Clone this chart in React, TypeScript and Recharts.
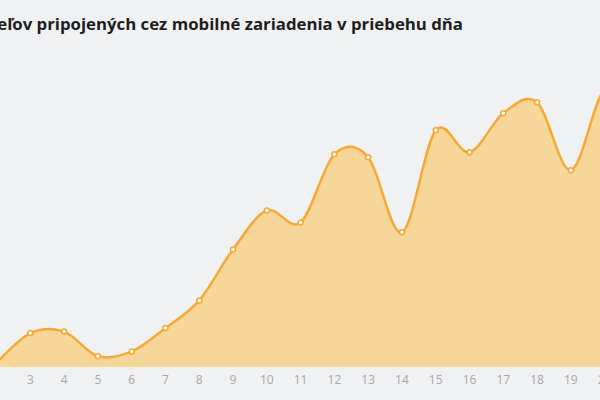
import { Area, AreaChart, XAxis, YAxis } from "recharts"

// hodiny dňa a podiel pripojení (odčítané z grafu)
const hours = [2, 3, 4, 5, 6, 7, 8, 9, 10, 11, 12, 13, 14, 15, 16, 17, 18, 19, 20, 21]
const share = [1.5, 11.3, 11.8, 3.6, 5.2, 13, 22.2, 39.2, 52.2, 48.2, 70.9, 69.9, 44.9, 78.9, 71.6, 84.6, 88.2, 65.6, 92.5, 86]
const hourTicks = [0, 1, 2, 3, 4, 5, 6, 7, 8, 9, 10, 11, 12, 13, 14, 15, 16, 17, 18, 19, 20, 21, 22, 23]

const title = "Podiel používateľov pripojených cez mobilné zariadenia v priebehu dňa"

const data = hours.map((h, i) => ({ hour: h, share: share[i] }))

// Catmull-Rom krivka (ako v pôvodnom grafe), recharts berie vlastnú curve factory
const catmullRom = (context: any) => {
  let line = NaN
  let pts: number[][] = []
  return {
    areaStart() {
      line = 0
    },
    areaEnd() {
      line = NaN
    },
    lineStart() {
      pts = []
    },
    lineEnd() {
      const n = pts.length
      if (n) {
        if (line) context.lineTo(pts[0][0], pts[0][1])
        else context.moveTo(pts[0][0], pts[0][1])
        for (let i = 0; i < n - 1; i++) {
          const p0 = pts[Math.max(i - 1, 0)]
          const p1 = pts[i]
          const p2 = pts[i + 1]
          const p3 = pts[Math.min(i + 2, n - 1)]
          context.bezierCurveTo(
            p1[0] + (p2[0] - p0[0]) / 6,
            p1[1] + (p2[1] - p0[1]) / 6,
            p2[0] - (p3[0] - p1[0]) / 6,
            p2[1] - (p3[1] - p1[1]) / 6,
            p2[0],
            p2[1]
          )
        }
      }
      if (line || (line !== 0 && n === 1)) context.closePath()
      line = 1 - line
    },
    point(x: number, y: number) {
      pts.push([+x, +y])
    },
  }
}

export default function App() {
  return (
    <div
      style={{
        position: "absolute",
        left: 0,
        top: 0,
        width: 600,
        height: 400,
        overflow: "hidden",
        background: "#f0f1f3",
        fontFamily: "'Open Sans', sans-serif",
      }}
    >
      <div
        style={{
          position: "absolute",
          right: 137,
          top: 12,
          whiteSpace: "nowrap",
          fontSize: 16.8,
          fontWeight: 700,
          color: "#1e1e1e",
        }}
      >
        {title}
      </div>
      <div style={{ position: "absolute", left: -71, top: 0 }}>
        <AreaChart width={777} height={400} data={data} margin={{ top: 67, right: 0, bottom: 0, left: 0 }}>
          <XAxis
            dataKey="hour"
            type="number"
            domain={[0, 23]}
            ticks={hourTicks}
            axisLine={false}
            tickLine={false}
            height={33}
            tick={{ fontSize: 12, fill: "#a8a8a8" }}
            interval={0}
          />
          <YAxis hide domain={[0, 100]} />
          <Area
            type={catmullRom as any}
            dataKey="share"
            stroke="#f6a935"
            strokeWidth={2.5}
            fill="#f6d699"
            fillOpacity={1}
            dot={{ r: 2.5, fill: "#ffffff", stroke: "#f6a935", strokeWidth: 1.5 }}
            activeDot={false}
            isAnimationActive={false}
          />
        </AreaChart>
      </div>
    </div>
  )
}
